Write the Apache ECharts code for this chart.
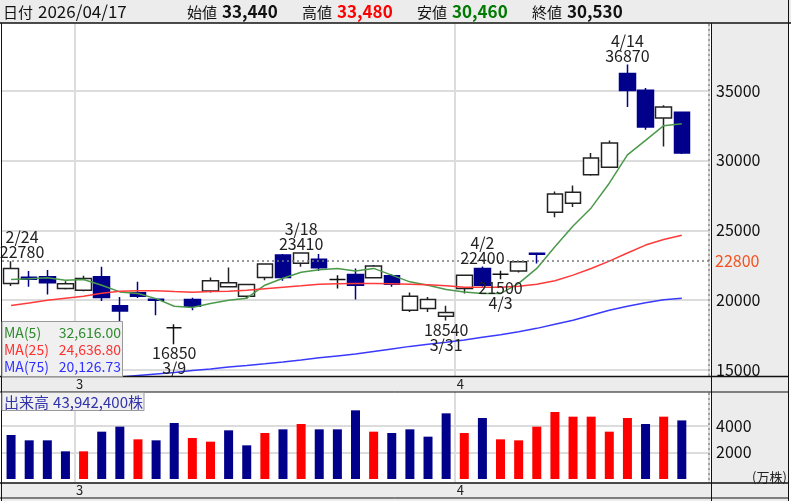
<!DOCTYPE html>
<html>
<head>
<meta charset="utf-8">
<script src="https://cdn.jsdelivr.net/npm/echarts@6/dist/echarts.min.js"></script>
<style>
  html, body { margin: 0; padding: 0; background: #fff; }
  #chart { width: 791px; height: 501px; }
</style>
</head>
<body>
<div id="chart"></div>
<script>
// 日足データ（2026/02/24 〜 2026/04/17）
var dates = ['2/24', '2/25', '2/26', '2/27',
  '3/2', '3/3', '3/4', '3/5', '3/6',
  '3/9', '3/10', '3/11', '3/12', '3/13',
  '3/16', '3/17', '3/18', '3/19',
  '3/23', '3/24', '3/25', '3/26', '3/27',
  '3/30', '3/31',
  '4/1', '4/2', '4/3',
  '4/6', '4/7', '4/8', '4/9', '4/10',
  '4/13', '4/14', '4/15', '4/16', '4/17']
var opens = [21190, 21630, 21670, 20830, 20710, 21670, 19590, 20520, 20060, 18030,
  20050, 20660, 20950, 20280, 21620, 23230, 22640, 22920, 21480, 21840,
  21600, 21740, 19280, 19400, 18850, 20830, 22270, 21850, 22080, 23350,
  26290, 26940, 28970, 29520, 36220, 35020, 33040, 33440]
var closes = [22270, 21490, 21240, 21170, 21550, 20190, 19230, 20280, 19990, 18030,
  19560, 21380, 21240, 21120, 22580, 21620, 23380, 22310, 21480, 21070,
  22440, 21140, 20280, 20040, 19110, 21790, 21070, 21850, 22740, 23280,
  27600, 27730, 30170, 31250, 35000, 32390, 33830, 30530]
var lows = [21020, 20950, 20400, 20760, 20640, 19940, 18400, 20150, 18920, 16850,
  19280, 20550, 20900, 20090, 21430, 21380, 22390, 22080, 20830, 20050,
  21550, 20950, 19150, 19150, 18540, 20470, 20950, 21500, 21980, 22630,
  25930, 26670, 28900, 29500, 33830, 32200, 31000, 30460]
var highs = [22780, 22080, 22150, 21360, 21740, 22390, 20230, 21320, 20060, 18270,
  20170, 21620, 22340, 21150, 22600, 23300, 23410, 23300, 21790, 22270,
  22510, 21860, 20550, 20230, 19590, 21800, 22400, 22100, 22760, 23350,
  27770, 28200, 30530, 31430, 36870, 35190, 33950, 33480]

// 移動平均（チャートから読み取り）
var ma5 = [21480, 21530, 21600, 21430, 21480, 21070, 20590, 20470, 20110, 19560,
  19470, 19760, 19990, 20140, 21070, 21570, 22000, 22180, 22270, 22080,
  22270, 21790, 21310, 21070, 20760, 20590, 20470, 20470, 21200, 22270,
  23820, 25310, 26600, 28370, 30400, 31430, 32490, 32616]
var ma25 = [19610, 19800, 20000, 20140, 20280, 20500, 20640, 20670, 20670, 20610,
  20570, 20610, 20640, 20710, 20820, 20930, 21030, 21140, 21180, 21190,
  21190, 21180, 21140, 21100, 21030, 20930, 20930, 20930, 21000, 21140,
  21390, 21790, 22260, 22790, 23370, 23940, 24340, 24636.8]
var ma75 = [13680, 13820, 13960, 14110, 14250, 14390, 14500, 14610, 14720, 14820,
  14970, 15070, 15220, 15330, 15450, 15580, 15720, 15870, 16010, 16150,
  16330, 16510, 16690, 16840, 16980, 17150, 17340, 17520, 17730, 17980,
  18270, 18560, 18920, 19280, 19560, 19810, 20030, 20126.73]

// 出来高（万株）と色区分（1 = 赤, 0 = 紺）
var volumes = [3300, 2900, 2900, 2075, 2075, 3550, 3925, 2975, 2900, 4200,
  3075, 2800, 3650, 2525, 3450, 3725, 4125, 3725, 3725, 5150,
  3550, 3450, 3725, 3175, 4925, 3450, 4575, 2975, 2900, 3925,
  5025, 4675, 4675, 3550, 4575, 4125, 4675, 4394.24]
var volRed = [0, 0, 0, 0, 1, 0, 0, 1, 0, 0,
  1, 1, 0, 0, 1, 0, 1, 0, 0, 0,
  1, 0, 0, 0, 0, 1, 0, 1, 1, 1,
  1, 1, 1, 1, 1, 0, 1, 0]

var priceTicks = [15000, 20000, 25000, 30000, 35000]
var volTicks = [2000, 4000]
var refPrice = 22800
var highMarks = [0, 16, 26, 34]
var lowMarks = [9, 24, 27]

var FONT = "'Noto Sans CJK JP', 'Noto Sans', sans-serif"
var NAVY = '#00008b'
var last = dates.length - 1

function fmt(n, d) {
  return n.toLocaleString('en-US', { minimumFractionDigits: d, maximumFractionDigits: d })
}
// 右端に空白1本分
var cats = dates.concat([''])
function isMonthStart(i) {
  return i > 0 && i < dates.length && dates[i].split('/')[0] !== dates[i - 1].split('/')[0]
}

var candleData = dates.map(function (d, i) {
  return [opens[i], closes[i], lows[i], highs[i]]
})
var volData = volumes.map(function (v, i) {
  return { value: v, itemStyle: { color: volRed[i] ? '#ff0000' : NAVY } }
})

var marks = highMarks.map(function (i) {
  return {
    coord: [dates[i], highs[i]],
    label: { position: 'top', distance: 1, offset: i === 0 ? [11, 0] : [0, 0], formatter: dates[i] + '\n' + highs[i] }
  }
}).concat(lowMarks.map(function (i) {
  return {
    coord: [dates[i], lows[i]],
    label: { position: 'bottom', distance: 1, formatter: lows[i] + '\n' + dates[i] }
  }
}))

function xAxisFor(idx) {
  return {
    type: 'category',
    gridIndex: idx,
    data: cats,
    boundaryGap: true,
    axisLine: { show: false },
    axisTick: { show: false },
    axisLabel: {
      interval: function (i) { return isMonthStart(i) },
      formatter: function (v) { return v ? v.split('/')[0] : '' },
      color: '#222', fontSize: 13, fontFamily: FONT,
      margin: 2, padding: [0, 8, 0, 0]
    },
    splitLine: {
      show: true,
      interval: function (i) { return isMonthStart(i) },
      lineStyle: { color: '#dcdcdc', width: 2 }
    }
  }
}

function txt(x, y, s, color, font, align) {
  return { type: 'text', z: 101, x: x, y: y, style: { text: s, fill: color, font: font, verticalAlign: 'middle', align: align || 'left' } }
}

var chart = echarts.init(document.getElementById('chart'))

var gray = '#ececec'
var graphics = [
  // 背景
  { type: 'rect', z: -10, shape: { x: 0, y: 0, width: 791, height: 23 }, style: { fill: gray } },
  { type: 'rect', z: -10, shape: { x: 711, y: 23, width: 77, height: 478 }, style: { fill: gray } },
  { type: 'rect', z: -10, shape: { x: 0, y: 376, width: 788, height: 16 }, style: { fill: gray } },
  { type: 'rect', z: -10, shape: { x: 0, y: 483, width: 788, height: 18 }, style: { fill: gray } },
  // 枠線
  { type: 'line', z: 100, shape: { x1: 0, y1: 23, x2: 791, y2: 23 }, style: { stroke: '#111', lineWidth: 1.5 } },
  { type: 'line', z: 100, shape: { x1: 1.5, y1: 23, x2: 1.5, y2: 501 }, style: { stroke: '#111', lineWidth: 1 } },
  { type: 'line', z: 100, shape: { x1: 711.5, y1: 23, x2: 711.5, y2: 501 }, style: { stroke: '#111', lineWidth: 1 } },
  { type: 'line', z: 100, shape: { x1: 788.5, y1: 0, x2: 788.5, y2: 501 }, style: { stroke: '#111', lineWidth: 1 } },
  { type: 'rect', z: 100, shape: { x: 712, y: 376.5, width: 76, height: 15 }, style: { fill: gray } },
  { type: 'line', z: 100, shape: { x1: 0, y1: 376.5, x2: 789, y2: 376.5 }, style: { stroke: '#111', lineWidth: 1.5 } },
  { type: 'line', z: 100, shape: { x1: 0, y1: 392, x2: 789, y2: 392 }, style: { stroke: '#111', lineWidth: 1 } },
  { type: 'line', z: 100, shape: { x1: 0, y1: 483, x2: 789, y2: 483 }, style: { stroke: '#111', lineWidth: 1.5 } },
  { type: 'line', z: 100, shape: { x1: 0, y1: 498, x2: 789, y2: 498 }, style: { stroke: '#111', lineWidth: 1 } },
  { type: 'line', z: 100, shape: { x1: 709, y1: 24, x2: 709, y2: 376 }, style: { stroke: '#666', lineWidth: 1, lineDash: [2, 3] } },
  { type: 'line', z: 100, shape: { x1: 709, y1: 393, x2: 709, y2: 483 }, style: { stroke: '#666', lineWidth: 1, lineDash: [2, 3] } },
  // ヘッダー
  txt(3, 12, '日付', '#111', '15px ' + FONT),
  txt(38, 12, '2026/04/17', '#111', '17px ' + FONT),
  txt(187, 12, '始値', '#111', '15px ' + FONT),
  txt(222, 12, fmt(opens[last], 0), '#111', 'bold 17px ' + FONT),
  txt(302, 12, '高値', '#111', '15px ' + FONT),
  txt(337, 12, fmt(highs[last], 0), '#ff0000', 'bold 17px ' + FONT),
  txt(417, 12, '安値', '#111', '15px ' + FONT),
  txt(452, 12, fmt(lows[last], 0), '#007a00', 'bold 17px ' + FONT),
  txt(532, 12, '終値', '#111', '15px ' + FONT),
  txt(567, 12, fmt(closes[last], 0), '#111', 'bold 17px ' + FONT),
  // 移動平均の凡例
  { type: 'rect', z: 100, shape: { x: 2, y: 321.5, width: 120.5, height: 55 }, style: { fill: '#f0f0f0', stroke: '#9a9a9a', lineWidth: 1 } },
  txt(4, 333, 'MA(5)', '#2e8b2e', '14px ' + FONT),
  txt(121, 333, fmt(ma5[last], 2), '#2e8b2e', '14px ' + FONT, 'right'),
  txt(4, 350, 'MA(25)', '#ff3030', '14px ' + FONT),
  txt(121, 350, fmt(ma25[last], 2), '#ff3030', '14px ' + FONT, 'right'),
  txt(4, 367, 'MA(75)', '#3030ff', '14px ' + FONT),
  txt(121, 367, fmt(ma75[last], 2), '#3030ff', '14px ' + FONT, 'right'),
  // 出来高ラベル
  { type: 'rect', z: 100, shape: { x: 2, y: 392.5, width: 142, height: 18 }, style: { fill: '#f0f0f0', stroke: '#9a9a9a', lineWidth: 1 } },
  txt(4, 402, '出来高', '#3333aa', '15px ' + FONT),
  txt(143, 402, fmt(Math.round(volumes[last] * 10000), 0) + '株', '#3333aa', '15px ' + FONT, 'right'),
  txt(752, 477, '(万株)', '#222', '13px ' + FONT)
]

chart.setOption({
  backgroundColor: '#fff',
  animation: false,
  textStyle: { fontFamily: FONT },
  graphic: graphics,
  grid: [
    { left: 2, right: 82, top: 23.5, bottom: 125 },
    { left: 2, right: 82, top: 392, bottom: 19 }
  ],
  xAxis: [xAxisFor(0), xAxisFor(1)],
  yAxis: [
    {
      type: 'value', gridIndex: 0, position: 'right',
      min: 14570, max: 39800,
      axisLine: { show: false },
      axisTick: { show: false, customValues: priceTicks },
      axisLabel: { customValues: priceTicks, formatter: function (v) { return String(v) }, color: '#111', fontSize: 16, margin: 7, fontFamily: FONT },
      splitLine: { show: true, lineStyle: { color: '#dcdcdc', width: 2 } }
    },
    {
      type: 'value', gridIndex: 1, position: 'right',
      min: -225, max: 6525,
      axisLine: { show: false },
      axisTick: { show: false, customValues: volTicks },
      axisLabel: { customValues: volTicks, formatter: function (v) { return String(v) }, color: '#111', fontSize: 16, margin: 7, fontFamily: FONT },
      splitLine: { show: true, lineStyle: { color: '#dcdcdc', width: 2 } }
    }
  ],
  series: [
    {
      name: '株価', type: 'candlestick', xAxisIndex: 0, yAxisIndex: 0,
      data: candleData, barWidth: 16,
      itemStyle: {
        color: '#ffffff', color0: NAVY,
        borderColor: '#222', borderColor0: NAVY, borderColorDoji: '#111',
        borderWidth: 1.5
      },
      markLine: {
        silent: true, symbol: 'none',
        lineStyle: { color: '#777', width: 1.5, type: [2, 3] },
        label: { position: 'end', distance: 6, color: '#f4511e', fontSize: 16, fontFamily: FONT, formatter: String(refPrice) },
        data: [{ yAxis: refPrice }]
      },
      markPoint: {
        silent: true, symbol: 'circle', symbolSize: 1,
        itemStyle: { color: 'rgba(0,0,0,0)' },
        label: { show: true, color: '#222', fontSize: 16, lineHeight: 15, fontFamily: FONT },
        data: marks
      }
    },
    { name: 'MA(5)', type: 'line', xAxisIndex: 0, yAxisIndex: 0, data: ma5, showSymbol: false, lineStyle: { color: '#4a9a4a', width: 1.5 } },
    { name: 'MA(25)', type: 'line', xAxisIndex: 0, yAxisIndex: 0, data: ma25, showSymbol: false, lineStyle: { color: '#ff3a3a', width: 1.5 } },
    { name: 'MA(75)', type: 'line', xAxisIndex: 0, yAxisIndex: 0, data: ma75, showSymbol: false, lineStyle: { color: '#3a3aff', width: 1.5 } },
    {
      name: '出来高', type: 'bar', xAxisIndex: 1, yAxisIndex: 1,
      data: volData, barWidth: 9
    }
  ]
})
</script>
</body>
</html>
